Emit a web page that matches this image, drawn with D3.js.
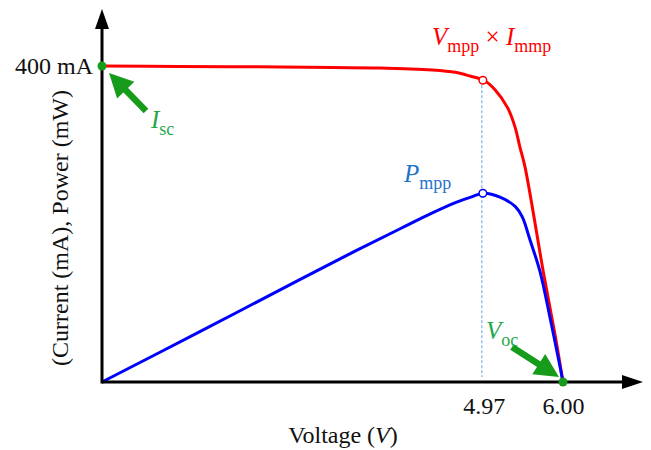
<!DOCTYPE html>
<html>
<head>
<meta charset="utf-8">
<script src="https://cdn.jsdelivr.net/npm/d3@7"></script>
<style>
  body { margin: 0; background: #fff; }
  svg { display: block; font-family: "Liberation Serif", "Times New Roman", serif; }
</style>
</head>
<body>
<div id="chart"></div>
<script>
// I-V curve (voltage in V, current in mA)
let ivVoltage = [0, 1.0, 2.0, 3.0, 3.6, 4.3, 4.6, 4.8, 4.97, 5.115, 5.28, 5.375, 5.44, 5.506, 5.75, 5.9, 6.0]
let ivCurrent = [400, 399.5, 399, 398, 397.5, 395, 392, 387, 382, 370, 347, 323, 297, 272, 136, 58, 0]

// P-V curve (voltage in V, power in mW, same plotting units)
let pvVoltage = [0, 1.28, 2.58, 3.3, 3.88, 4.3, 4.6, 4.8, 4.97, 5.18, 5.38, 5.47, 5.57, 5.70, 5.83, 5.96, 6.0]
let pvPower = [0, 64, 130, 166, 194, 214, 227, 234, 239, 234, 222, 209, 180, 140, 82, 20, 0]

let xTicks = [4.97, 6.00]
let vmpp = 4.97, voc = 6.0, isc = 400

let width = 651, height = 450

let svg = d3.select('#chart').append('svg')
    .attr('width', width)
    .attr('height', height)

let x = d3.scaleLinear().domain([0, 6]).range([102, 563])
let y = d3.scaleLinear().domain([0, 400]).range([382, 66])

let ivData = ivVoltage.map((v, i) => ({ v: v, val: ivCurrent[i] }))
let pvData = pvVoltage.map((v, i) => ({ v: v, val: pvPower[i] }))

let green = '#179b1b'
let greenText = '#1fa84a'

// dashed guide at Vmpp
let impp = ivCurrent[ivVoltage.indexOf(vmpp)]
let pmpp = pvPower[pvVoltage.indexOf(vmpp)]
svg.append('line')
    .attr('x1', x(vmpp) - 2).attr('x2', x(vmpp) - 2)
    .attr('y1', y(impp)).attr('y2', y(0) - 5)
    .attr('stroke', '#5ea6e0')
    .attr('stroke-width', 1)
    .attr('stroke-dasharray', '3,2')

let line = d3.line()
    .x(d => x(d.v))
    .y(d => y(d.val))
    .curve(d3.curveCatmullRom.alpha(0.5))

svg.append('path')
    .datum(ivData)
    .attr('d', line)
    .attr('fill', 'none')
    .attr('stroke', '#ff0000')
    .attr('stroke-width', 3)

svg.append('path')
    .datum(pvData)
    .attr('d', line)
    .attr('fill', 'none')
    .attr('stroke', '#0000ff')
    .attr('stroke-width', 3)

// axes with arrows
let axisColor = '#000'
svg.append('line')
    .attr('x1', x(0)).attr('x2', 630)
    .attr('y1', y(0)).attr('y2', y(0))
    .attr('stroke', axisColor).attr('stroke-width', 3)
svg.append('line')
    .attr('x1', x(0)).attr('x2', x(0))
    .attr('y1', y(0) + 1.5).attr('y2', 22)
    .attr('stroke', axisColor).attr('stroke-width', 3)
svg.append('path')
    .attr('d', `M643,${y(0)} L622,${y(0) - 7} L622,${y(0) + 7} Z`)
    .attr('fill', axisColor)
svg.append('path')
    .attr('d', `M${x(0)},9 L${x(0) - 7},29 L${x(0) + 7},29 Z`)
    .attr('fill', axisColor)

let xAxis = d3.axisBottom(x)
    .tickValues(xTicks)
    .tickSize(0)
    .tickPadding(15)
    .tickFormat(d3.format('.2f'))

let gx = svg.append('g')
    .attr('transform', `translate(0,${y(0)})`)
    .call(xAxis)
gx.select('.domain').remove()
gx.selectAll('text')
    .attr('font-family', '"Liberation Serif", "Times New Roman", serif')
    .attr('font-size', 24)
    .attr('fill', '#111')

// y tick label
svg.append('text')
    .attr('x', x(0) - 9)
    .attr('y', y(isc) + 8)
    .attr('text-anchor', 'end')
    .attr('font-size', 24)
    .attr('fill', '#111')
    .text('400 mA')

// axis titles
let xt = svg.append('text')
    .attr('x', 343)
    .attr('y', 443)
    .attr('text-anchor', 'middle')
    .attr('font-size', 24)
    .attr('fill', '#111')
xt.append('tspan').text('Voltage (')
xt.append('tspan').attr('font-style', 'italic').text('V')
xt.append('tspan').text(')')

svg.append('text')
    .attr('transform', 'translate(68,228) rotate(-90)')
    .attr('text-anchor', 'middle')
    .attr('font-size', 24)
    .attr('fill', '#111')
    .text('(Current (mA), Power (mW)')

// markers
svg.append('circle')
    .attr('cx', x(vmpp) - 1).attr('cy', y(impp)).attr('r', 3.8)
    .attr('fill', '#fff').attr('stroke', '#ff0000').attr('stroke-width', 1.5)
svg.append('circle')
    .attr('cx', x(vmpp) - 1).attr('cy', y(pmpp)).attr('r', 3.8)
    .attr('fill', '#fff').attr('stroke', '#0000ff').attr('stroke-width', 1.5)
svg.append('circle')
    .attr('cx', x(0)).attr('cy', y(isc)).attr('r', 4.5).attr('fill', green)
svg.append('circle')
    .attr('cx', x(voc)).attr('cy', y(0)).attr('r', 4.5).attr('fill', green)

// green arrows
function arrow(x1, y1, x2, y2) {
    let dx = x2 - x1, dy = y2 - y1
    let len = Math.sqrt(dx * dx + dy * dy)
    let ux = dx / len, uy = dy / len
    let headLen = 24, headW = 12
    let bx = x2 - ux * headLen, by = y2 - uy * headLen
    svg.append('line')
        .attr('x1', x1).attr('y1', y1)
        .attr('x2', bx + ux * 2).attr('y2', by + uy * 2)
        .attr('stroke', green).attr('stroke-width', 6.5)
    svg.append('path')
        .attr('d', `M${x2},${y2} L${bx - uy * headW},${by + ux * headW} L${bx + uy * headW},${by - ux * headW} Z`)
        .attr('fill', green)
}
arrow(x(0) + 44, y(isc) + 45, x(0) + 7, y(isc) + 7)
arrow(x(voc) - 51, y(0) - 35, x(voc) - 4, y(0) - 5)

// annotations
function subLabel(px, py, main, sub, color, size) {
    let t = svg.append('text')
        .attr('x', px).attr('y', py)
        .attr('font-size', size)
        .attr('fill', color)
    t.append('tspan').attr('font-style', 'italic').text(main)
    t.append('tspan').attr('font-size', size * 0.72).attr('dy', 7).text(sub)
    return t
}

let vm = svg.append('text')
    .attr('x', 432).attr('y', 45)
    .attr('font-size', 25)
    .attr('fill', '#ff0000')
vm.append('tspan').attr('font-style', 'italic').text('V')
vm.append('tspan').attr('font-size', 18).attr('dy', 7).text('mpp')
vm.append('tspan').attr('dy', -7).text(' \u00d7 ')
vm.append('tspan').attr('font-style', 'italic').text('I')
vm.append('tspan').attr('font-size', 18).attr('dy', 7).text('mmp')

subLabel(404, 182, 'P', 'mpp', '#1f73c8', 25)
subLabel(151, 128, 'I', 'sc', greenText, 25)
subLabel(486, 339, 'V', 'oc', greenText, 25)
</script>
</body>
</html>
